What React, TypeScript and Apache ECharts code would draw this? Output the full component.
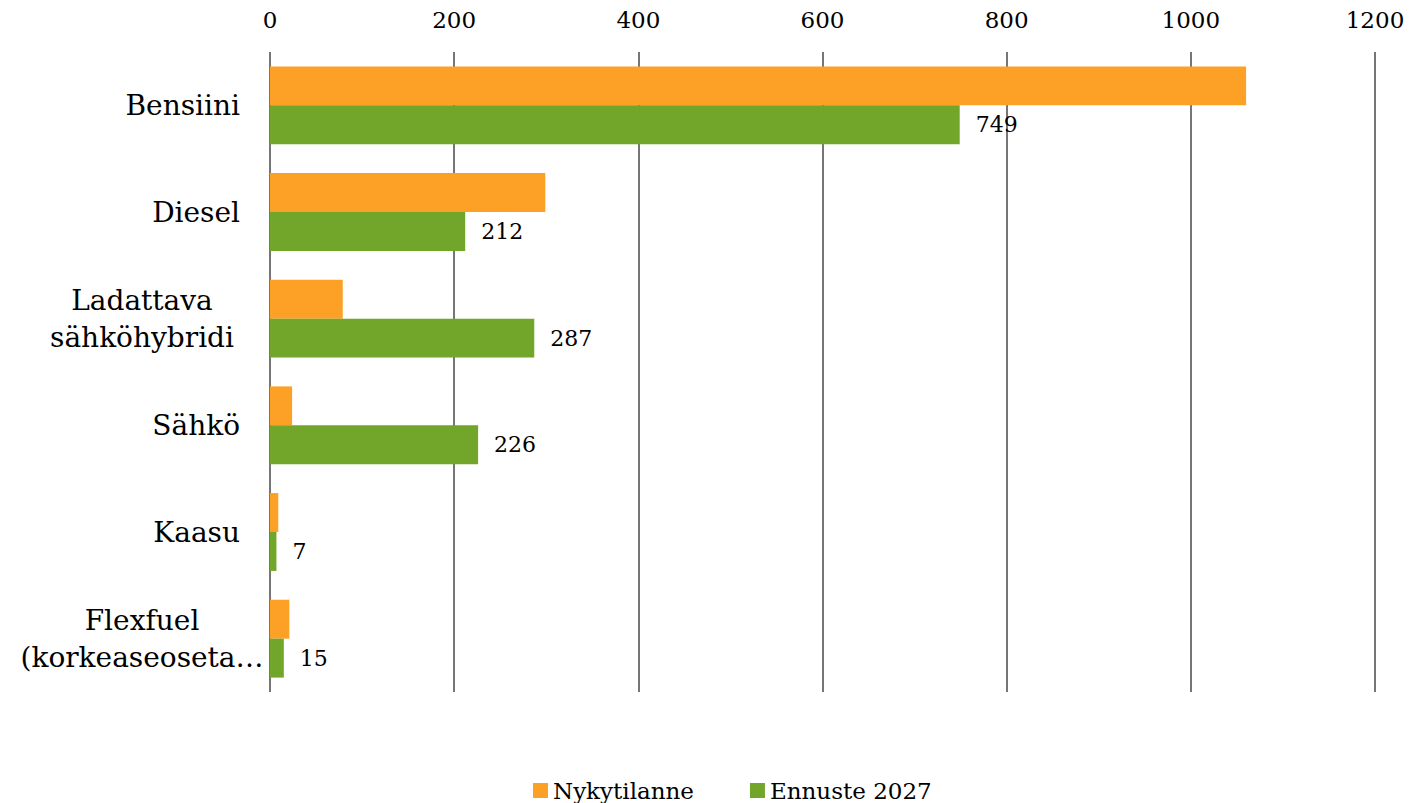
import React, { useEffect, useRef } from "react";
import * as echarts from "echarts";

const categories = [
  "Bensiini",
  "Diesel",
  "Ladattava\nsähköhybridi",
  "Sähkö",
  "Kaasu",
  "Flexfuel\n(korkeaseoseta…",
];
const nykytilanne = [1060, 299, 79, 24, 9, 21];
const ennuste2027 = [749, 212, 287, 226, 7, 15];
const seriesNames = ["Nykytilanne", "Ennuste 2027"];
const xTicks = { min: 0, max: 1200, interval: 200 };

const FONT = "DejaVu Serif";

export default function App() {
  const ref = useRef<HTMLDivElement>(null);
  useEffect(() => {
    if (!ref.current) return;
    const chart = echarts.init(ref.current, undefined, { renderer: "svg" });
    chart.setOption({
      animation: false,
      textStyle: { fontFamily: FONT, color: "#000" },
      grid: { left: 270, right: 36, top: 52, bottom: 111, containLabel: false },
      xAxis: {
        type: "value",
        position: "top",
        min: xTicks.min,
        max: xTicks.max,
        interval: xTicks.interval,
        axisLine: { show: false },
        axisTick: { show: false },
        axisLabel: {
          fontFamily: FONT,
          fontSize: 23,
          color: "#000",
          margin: 21,
          formatter: (v: number) => String(v),
        },
        splitLine: { show: true, lineStyle: { color: "#767676", width: 2 } },
      },
      yAxis: {
        type: "category",
        inverse: true,
        data: categories,
        axisLine: { show: false },
        axisTick: { show: false },
        axisLabel: {
          fontFamily: FONT,
          fontSize: 28,
          color: "#000",
          margin: 30,
          align: "right",
          formatter: (v: string) =>
            v.includes("\n")
              ? v
                  .split("\n")
                  .map((l) => `{c|${l}}`)
                  .join("\n")
              : v,
          rich: {
            c: {
              fontFamily: FONT,
              fontSize: 28,
              color: "#000",
              width: 196,
              align: "center",
              lineHeight: 37,
            },
          },
        },
      },
      legend: {
        data: seriesNames,
        left: 528,
        top: 774,
        icon: "rect",
        itemWidth: 15,
        itemHeight: 15,
        itemGap: 56,
        textStyle: { fontFamily: FONT, fontSize: 23, color: "#000" },
      },
      series: [
        {
          name: seriesNames[0],
          type: "bar",
          data: nykytilanne,
          barGap: "0%",
          barCategoryGap: "27%",
          itemStyle: { color: "#FDA026" },
        },
        {
          name: seriesNames[1],
          type: "bar",
          data: ennuste2027,
          barGap: "0%",
          barCategoryGap: "27%",
          itemStyle: { color: "#71A62A" },
          label: {
            show: true,
            position: "right",
            distance: 16,
            fontFamily: FONT,
            fontSize: 22,
            color: "#000",
          },
        },
      ],
    });
    return () => chart.dispose();
  }, []);
  return (
    <div
      ref={ref}
      style={{ position: "fixed", left: 0, top: 0, width: 1411, height: 803, background: "#fff" }}
    />
  );
}
